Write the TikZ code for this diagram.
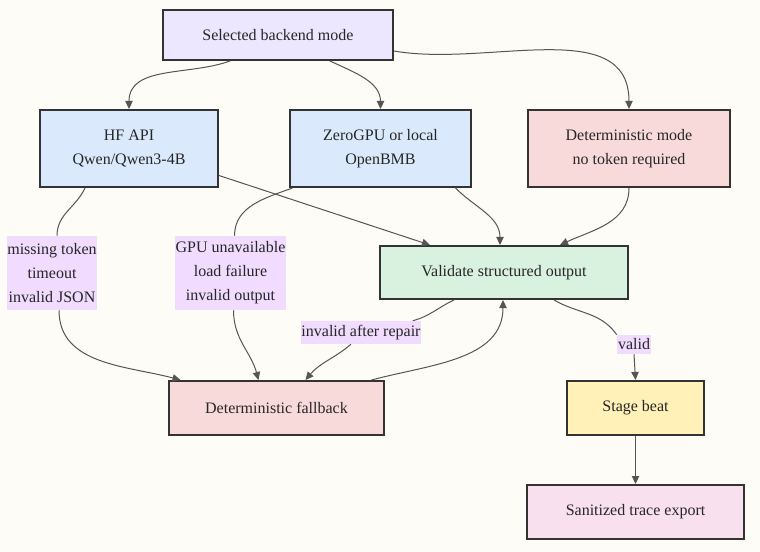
\documentclass[tikz,border=0pt]{standalone}
\usepackage{fontspec}
\setmainfont{Liberation Serif}
\usetikzlibrary{arrows.meta,calc}
\definecolor{bgcream}{HTML}{FDFCF7}
\definecolor{boxline}{HTML}{333333}
\definecolor{edgegray}{HTML}{555555}
\definecolor{modefill}{HTML}{ECE7FF}
\definecolor{apifill}{HTML}{DAEAFC}
\definecolor{detfill}{HTML}{F9DADA}
\definecolor{valfill}{HTML}{D9F2DF}
\definecolor{beatfill}{HTML}{FFF1B8}
\definecolor{tracefill}{HTML}{F8E0EE}
\definecolor{lblfill}{HTML}{F1DCFF}
\begin{document}
\begin{tikzpicture}[x=0.75pt, y=-0.75pt,
    box/.style={draw=boxline, line width=1.5pt, inner sep=0pt, align=center,
      font=\fontsize{12}{18}\selectfont, text=black!85},
    elabel/.style={fill=lblfill, inner sep=0pt, align=center,
      font=\fontsize{12}{18}\selectfont, text=black!85},
    flow/.style={draw=edgegray, line width=0.75pt, -{Triangle[length=6pt,width=5.5pt]}},
    plain/.style={draw=edgegray, line width=0.75pt}]
        \fill[bgcream] (0,0) rectangle (760,552);
        \useasboundingbox (0,0) rectangle (760,552);
        \node[box, fill=modefill, minimum width=172.5pt, minimum height=37.5pt] (mode) at (278,35) {Selected backend mode};
        \node[box, fill=apifill, minimum width=133.5pt, minimum height=57.75pt] (hf) at (129,148.5) {HF API\\Qwen/Qwen3-4B};
        \node[box, fill=apifill, minimum width=135.75pt, minimum height=57.75pt] (zero) at (380.5,148.5) {ZeroGPU or local\\OpenBMB};
        \node[box, fill=detfill, minimum width=151.5pt, minimum height=57.75pt] (det) at (629,148.5) {Deterministic mode\\no token required};
        \node[box, fill=valfill, minimum width=186pt, minimum height=39.75pt] (val) at (504,272.5) {Validate structured output};
        \node[box, fill=detfill, minimum width=161.25pt, minimum height=40.5pt] (fb) at (276.5,408) {Deterministic fallback};
        \node[box, fill=beatfill, minimum width=102.75pt, minimum height=40.5pt] (beat) at (635.5,408) {Stage beat};
        \node[box, fill=tracefill, minimum width=162.75pt, minimum height=40.5pt] (trace) at (635.5,512) {Sanitized trace export};
        \node[elabel, minimum width=66pt, minimum height=55.5pt] (l1) at (52,273) {missing token\\timeout\\invalid JSON};
        \node[elabel, minimum width=83.25pt, minimum height=55.5pt] (l2) at (230.5,273) {GPU unavailable\\load failure\\invalid output};
        \node[elabel, minimum width=88.5pt, minimum height=17.25pt] (l3) at (361,332.5) {invalid after repair};
        \node[elabel, minimum width=25.5pt, minimum height=14.25pt] (l4) at (634,344.5) {valid};
        \draw[flow] ($(mode.south)+(-48,0)$) to[out=-160, in=90] (hf.north);
        \draw[flow] ($(mode.south)+(52,0)$) to[out=-25, in=90] (zero.north);
        \draw[flow] ($(mode.east)+(0,16)$) to[out=-10, in=90] (det.north);
        \draw[flow] ($(hf.east)+(0,27)$) -- ($(val.north)+(-74,0)$);
        \draw[flow] ($(zero.south)+(75,0)$) to[out=-45, in=90] ($(val.north)+(-4,0)$);
        \draw[flow] (det.south) to[out=-90, in=25] ($(val.north)+(56,0)$);
        \draw[plain] ($(hf.south)+(-44,0)$) to[out=-115, in=90] ($(l1.north)+(5,0)$);
        \draw[flow] ($(l1.south)+(7,0)$) to[out=-90, in=165] ($(fb.north)+(-96,0)$);
        \draw[plain] ($(zero.south)+(-88,0)$) to[out=-160, in=90] ($(l2.north)+(4,0)$);
        \draw[flow] ($(l2.south)+(3,0)$) to[out=-90, in=105] ($(fb.north)+(-18,0)$);
        \draw[plain] ($(val.south)+(-50,0)$) to[out=-155, in=15] ($(l3.north east)+(-8,0)$);
        \draw[flow] ($(l3.south)+(-10,0)$) to[out=-140, in=50] ($(fb.north)+(29,0)$);
        \draw[flow] ($(fb.north)+(95,0)$) to[out=15, in=-90] ($(val.south)+(-1,0)$);
        \draw[plain] ($(val.south)+(50,0)$) to[out=-30, in=125] (l4.north west);
        \draw[flow] (l4.south) -- (beat.north);
        \draw[flow] (beat.south) -- (trace.north);
\end{tikzpicture}
\end{document}
